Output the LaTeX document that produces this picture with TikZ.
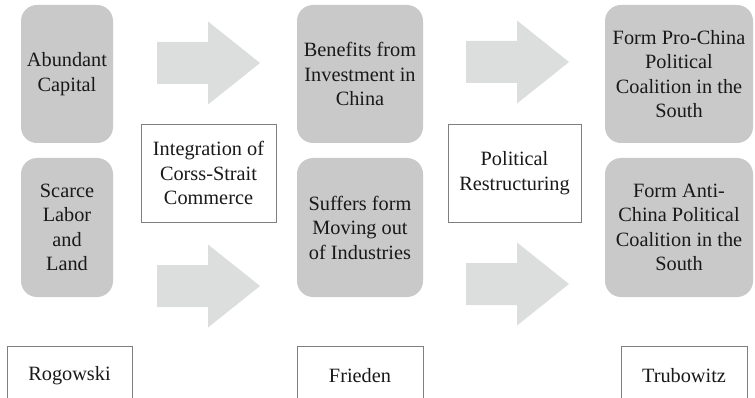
\documentclass[tikz,border=0pt]{standalone}
\usepackage{fontspec}
\setmainfont{Liberation Serif}
\definecolor{boxGrey}{HTML}{C9C9C9}
\definecolor{arrowGrey}{HTML}{DCDDDD}
\definecolor{lineGrey}{HTML}{7F7F7F}

\begin{document}
\begin{tikzpicture}[x=1pt, y=-1pt,
  every node/.style={align=center, inner sep=0pt, text=black!90,
    font=\fontsize{20.3}{24.5}\selectfont},
  factor/.style={fill=boxGrey, rounded corners=16pt},
  theory/.style={draw=lineGrey, line width=0.8pt, fill=white},
  blockarrow/.pic={\fill[arrowGrey] (0,-21) -- (51,-21) -- (51,-41.5) -- (103,0)
    -- (51,41.5) -- (51,21) -- (0,21) -- cycle;}]
  \useasboundingbox (0,0) rectangle (755,398);
  \clip (0,0) rectangle (755,398);
  % (a) endowments
  \node[factor, minimum width=92pt, minimum height=138pt] (capital) at (67,74) {Abundant\\Capital};
  \node[factor, minimum width=92pt, minimum height=139pt] (labor) at (67,227.5) {Scarce\\Labor\\and\\Land};
  % (b) sector interests
  \node[factor, minimum width=126pt, minimum height=138pt] (benefit) at (360,74) {Benefits from\\Investment in\\China};
  \node[factor, minimum width=126pt, minimum height=139pt] (suffer) at (360,227.5) {Suffers form\\Moving out\\of Industries};
  % (c) coalitions
  \node[factor, minimum width=148pt, minimum height=138pt] (pro) at (679,74) {Form Pro-China\\Political\\Coalition in the\\South};
  \node[factor, minimum width=148pt, minimum height=139pt] (anti) at (679,227.5) {Form Anti-\\China Political\\Coalition in the\\South};
  % arrows and what drives them
  \pic at (157,63) {blockarrow};
  \pic at (157,286) {blockarrow};
  \pic at (466,62) {blockarrow};
  \pic at (466,284) {blockarrow};
  \node[theory, minimum width=135pt, minimum height=98pt] (integ) at (208.5,173) {Integration of\\Corss-Strait\\Commerce};
  \node[theory, minimum width=133pt, minimum height=98pt] (restruct) at (514.5,173) {Political\\Restructuring};
  % authors
  \node[theory, minimum width=125pt, minimum height=60pt] (rogowski) at (69.5,376) {Rogowski};
  \node[theory, minimum width=126pt, minimum height=60pt] (frieden) at (360,376) {Frieden};
  \node[theory, minimum width=126pt, minimum height=60pt] (trubowitz) at (684,376) {Trubowitz};
\end{tikzpicture}
\end{document}
